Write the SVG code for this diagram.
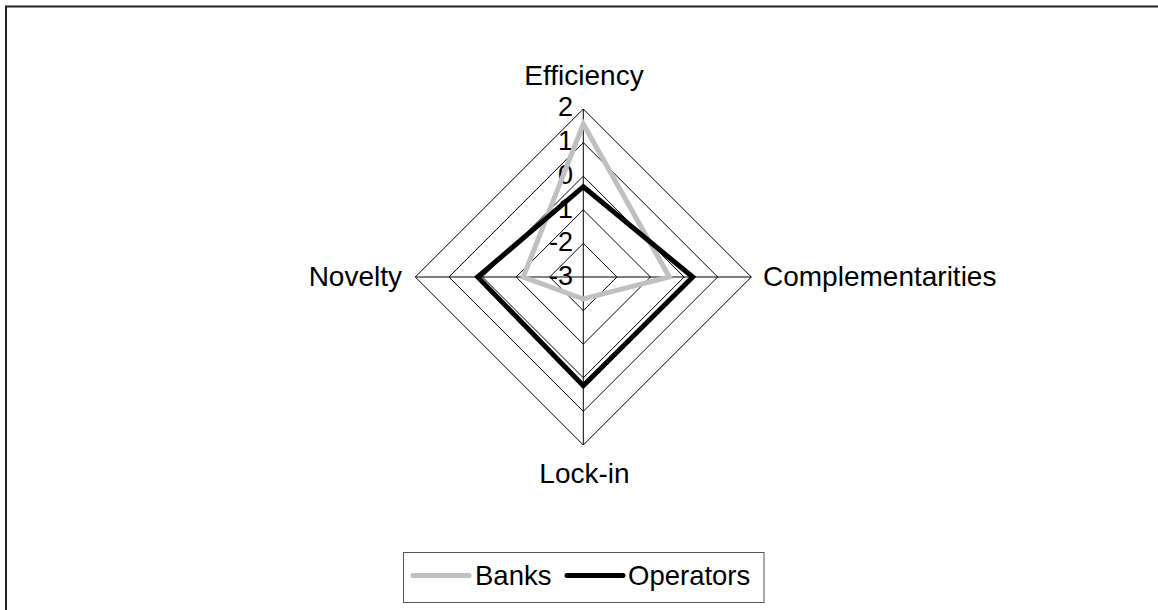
<svg xmlns="http://www.w3.org/2000/svg" width="1158" height="610" viewBox="0 0 1158 610">
  <style>
    text { font-family: "Liberation Sans", Arial, sans-serif; fill: #000; }
    .axis-label { font-size: 28px; }
    .legend-label { font-size: 27.5px; }
    .tick { font-size: 27px; text-anchor: end; }
    .grid { fill: none; stroke: #000; stroke-width: 1; }
    .series { fill: none; stroke-width: 5; stroke-linejoin: miter; }
    .banks { stroke: #C0C0C0; }
    .operators { stroke: #000; }
  </style>

  <!-- chart area frame -->
  <rect x="0" y="0" width="1158" height="610" fill="#fff"/>
  <path d="M6 610 V6.5 H1158" fill="none" stroke="#222" stroke-width="2"/>

  <!-- radar grid: centre (583.3, 277), step 33.6 per unit, scale -3..2 -->
  <g id="grid">
    <path class="grid" d="M583.3 109 L751.3 277 L583.3 445 L415.3 277 Z"/>
    <path class="grid" d="M583.3 142.6 L717.7 277 L583.3 411.4 L448.9 277 Z"/>
    <path class="grid" d="M583.3 176.2 L684.1 277 L583.3 377.8 L482.5 277 Z"/>
    <path class="grid" d="M583.3 209.8 L650.5 277 L583.3 344.2 L516.1 277 Z"/>
    <path class="grid" d="M583.3 243.4 L616.9 277 L583.3 310.6 L549.7 277 Z"/>
    <path class="grid" d="M583.3 109 V445 M415.3 277 H751.3"/>
  </g>

  <!-- value scale -->
  <g id="ticks">
    <text class="tick" x="573" y="116">2</text>
    <text class="tick" x="573" y="150">1</text>
    <text class="tick" x="573" y="184">0</text>
    <text class="tick" x="573" y="217.5">-1</text>
    <text class="tick" x="573" y="251">-2</text>
    <text class="tick" x="573" y="285">-3</text>
  </g>

  <!-- category labels -->
  <g id="label-efficiency"><text class="axis-label" x="584" y="85" text-anchor="middle">Efficiency</text></g>
  <g id="label-complementarities"><text class="axis-label" x="763" y="286">Complementarities</text></g>
  <g id="label-lockin"><text class="axis-label" x="584.5" y="483" text-anchor="middle">Lock-in</text></g>
  <g id="label-novelty"><text class="axis-label" x="402" y="286" text-anchor="end">Novelty</text></g>

  <!-- data series -->
  <g id="series">
    <path id="series-banks" class="series banks" d="M583.3 124 L669.3 277 L583.3 299 L523.3 277 Z"/>
    <path id="series-operators" class="series operators" d="M583.3 186.7 L692.7 277 L583.3 385.7 L477.7 277 Z"/>
  </g>

  <!-- legend -->
  <g id="legend">
    <rect x="403.5" y="552.5" width="360.5" height="50" fill="#fff" stroke="#555" stroke-width="1"/>
    <line x1="413" y1="575.5" x2="469" y2="575.5" stroke="#C0C0C0" stroke-width="5" stroke-linecap="round"/>
    <text class="legend-label" x="475" y="585">Banks</text>
    <line x1="567" y1="575.5" x2="623" y2="575.5" stroke="#000" stroke-width="5" stroke-linecap="round"/>
    <text class="legend-label" x="628" y="585">Operators</text>
  </g>
</svg>
